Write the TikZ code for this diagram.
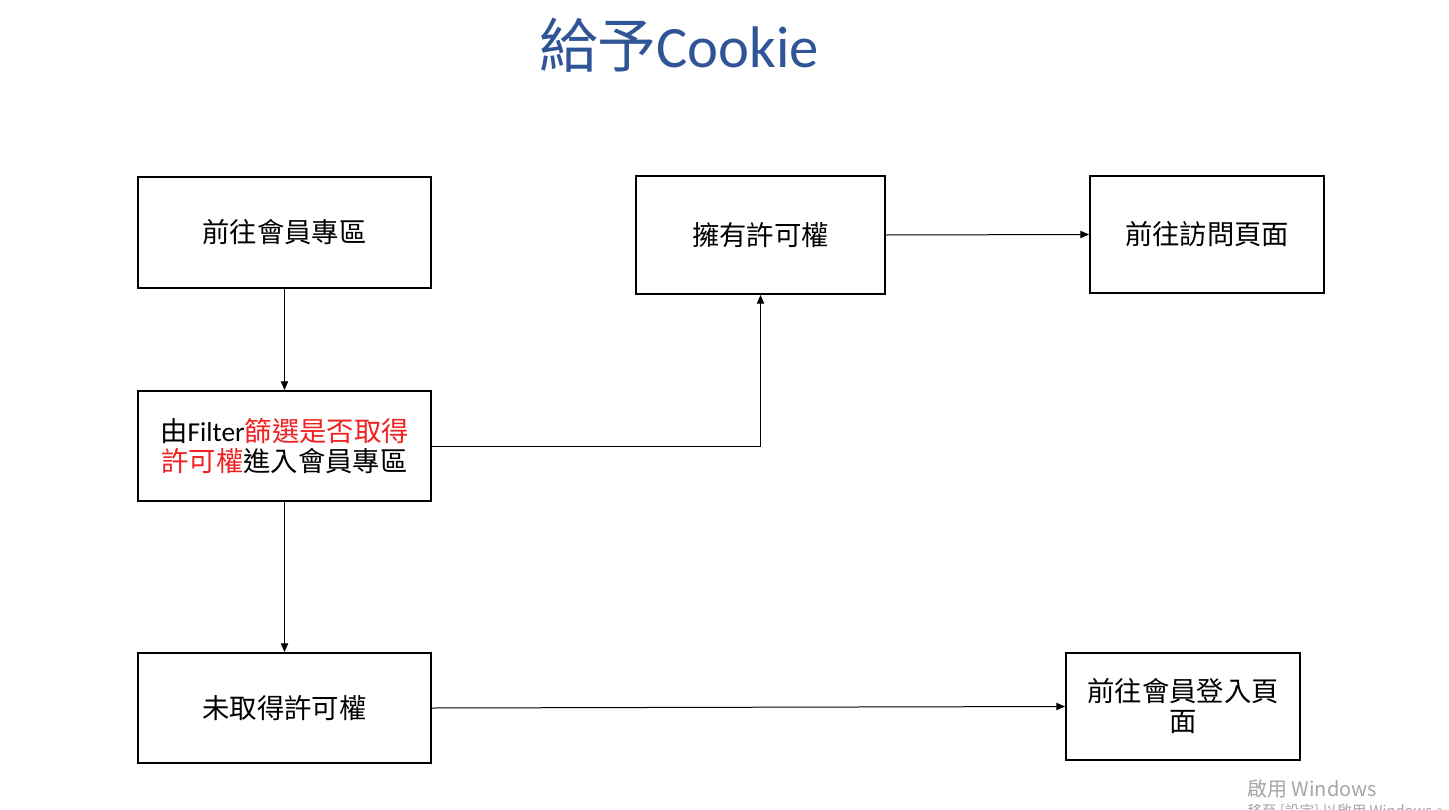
\documentclass[tikz,border=0pt]{standalone}
\usepackage{fontspec}
\setmainfont{Noto Sans CJK TC}
\newfontfamily\lat{Carlito}
\usetikzlibrary{arrows.meta}
\definecolor{titleblue}{HTML}{2F5597}
\definecolor{hlred}{HTML}{EE2222}
\definecolor{wmgray}{HTML}{A6A6A6}
\tikzset{
  box/.style={draw=black, line width=1.5pt, fill=white, align=center, inner sep=0pt,
    font=\fontsize{20.5}{22.5}\selectfont},
  conn/.style={draw=black, line width=0.75pt, -{Triangle[length=6.5pt,width=5.5pt]}},
}
\begin{document}
\begin{tikzpicture}[x=0.75pt,y=-0.75pt]
\useasboundingbox (0,0) rectangle (1449,810);
\fill[white] (0,0) rectangle (1449,810);

\node[font=\fontsize{44}{48}\selectfont, text=titleblue, anchor=center] (title) at (679,45) {給予{\lat Cookie}};

\node[box, minimum width=219.75pt, minimum height=83.25pt] (A) at (284.5,232.5) {前往會員專區};
\node[box, minimum width=219.75pt, minimum height=82.5pt] (B) at (284.5,446) {由{\lat Filter}\textcolor{hlred}{篩選是否取得}\\\textcolor{hlred}{許可權}進入會員專區};
\node[box, minimum width=186.75pt, minimum height=88.5pt] (C) at (760.5,235) {擁有許可權};
\node[box, minimum width=175.5pt, minimum height=87.75pt] (D) at (1207,234.5) {前往訪問頁面};
\node[box, minimum width=219.75pt, minimum height=82.5pt] (E) at (284.5,708) {未取得許可權};
\node[box, minimum width=175.5pt, minimum height=80.25pt] (F) at (1183,706.5) {前往會員登入頁\\面};

\draw[conn] (A.south) -- (B.north);
\draw[conn] (B.east) -| (C.south);
\draw[conn] (C.east) -- (D.west);
\draw[conn] (B.south) -- (E.north);
\draw[conn] (E.east) -- (F.west);

\node[anchor=west, text=wmgray, font=\fontsize{15}{17}\selectfont, inner sep=0pt] (wm1) at (1247,789) {啟用 Windows};
\node[anchor=west, text=wmgray, font=\fontsize{11}{13}\selectfont, inner sep=0pt] (wm2) at (1247,812) {移至 [設定] 以啟用 Windows。};
\end{tikzpicture}
\end{document}
